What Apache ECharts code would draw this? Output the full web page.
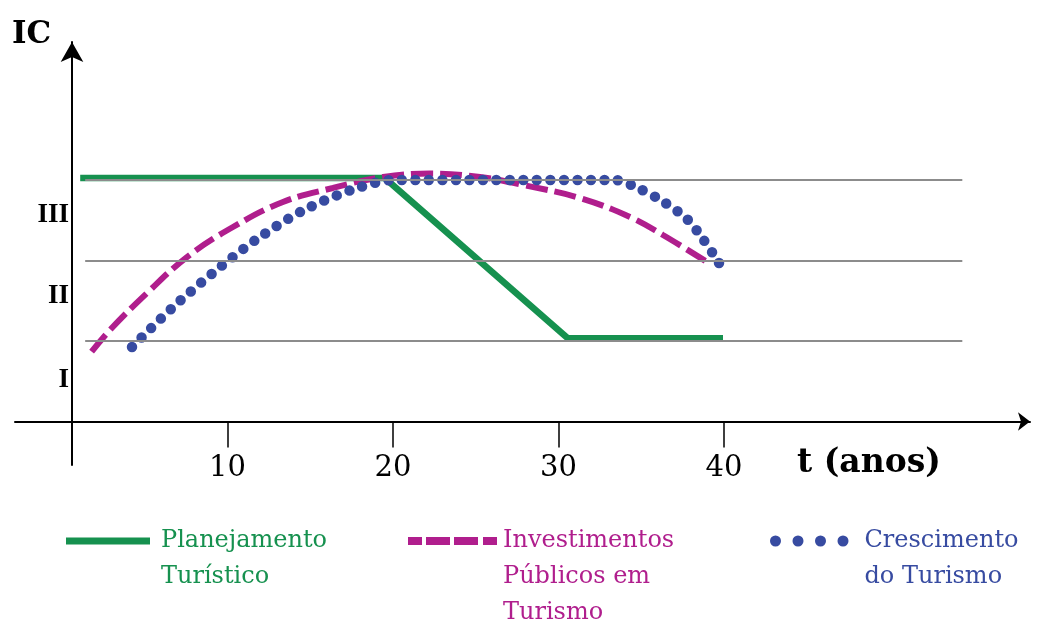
<!DOCTYPE html>
<html><head><meta charset="utf-8">
<script src="https://cdn.jsdelivr.net/npm/echarts@6/dist/echarts.min.js"></script>
<style>html,body{margin:0;padding:0;background:#fff}#c{width:1038px;height:619px}</style>
</head><body><div id="c"></div>
<script>
// ---- data ----
const seriesNames = ['Planejamento Turístico', 'Investimentos Públicos em Turismo', 'Crescimento do Turismo'];
const legendLines = [['Planejamento', 'Turístico'], ['Investimentos', 'Públicos em', 'Turismo'], ['Crescimento', 'do Turismo']];
const planejamento = [[1.1, 3.025], [19.5, 3.025], [30.56, 1.034], [39.94, 1.034]];
const investimentos = [[1.79, 0.867], [2.90, 1.137], [5.14, 1.596], [7.55, 2.043], [10.33, 2.416], [13.35, 2.727], [16.37, 2.901], [19.40, 3.037], [22.2, 3.08], [25.26, 3.037], [27.85, 2.938], [31.30, 2.776], [34.32, 2.540], [36.31, 2.317], [38.95, 1.985]];
const crescimento = [[4.23, 0.925], [6.65, 1.41], [9.18, 1.857], [11.78, 2.267], [14.62, 2.627], [17.65, 2.888], [20.06, 3.0], [26, 3.0], [33.4, 3.0], [34.92, 2.888], [36.37, 2.727], [37.76, 2.516], [38.73, 2.267], [39.7, 1.969]];
const xTickValues = [10, 20, 30, 40];
const yLevelLabels = ['I', 'II', 'III'];
const yLevelLabelPos = [0.52, 1.56, 2.56];
const levelLines = [1, 2, 3];
const levelLineStart = 1.4, levelLineEnd = 54.4;
const xAxisTitle = 't (anos)';
const yAxisTitle = 'IC';

// ---- style ----
const colors = ['#16914f', '#b01e8d', '#374ba1'];
const serif = 'DejaVu Serif';
const legendIcons = [
  'path://M0,0H84V7H0Z',
  'path://M0,0H14V8H0Z M18,0H42V8H18Z M46,0H70V8H46Z M75,0H89V8H75Z',
  'path://M0,5.5a5.5,5.5 0 1,0 11,0a5.5,5.5 0 1,0 -11,0Z M22.5,5.5a5.5,5.5 0 1,0 11,0a5.5,5.5 0 1,0 -11,0Z M45,5.5a5.5,5.5 0 1,0 11,0a5.5,5.5 0 1,0 -11,0Z M67.5,5.5a5.5,5.5 0 1,0 11,0a5.5,5.5 0 1,0 -11,0Z'
];
const legendBox = [
  {left: 66, itemWidth: 96, itemHeight: 7},
  {left: 408, itemWidth: 91, itemHeight: 8},
  {left: 770, itemWidth: 100.5, itemHeight: 11}
];
const lineH = 36, legendCenterY = 541;

const chart = echarts.init(document.getElementById('c'));

const legends = seriesNames.map((name, i) => {
  const lines = legendLines[i];
  const total = lines.length * 2 - 1;
  return {
    left: legendBox[i].left,
    top: legendCenterY - total * lineH / 2,
    padding: 0,
    orient: 'vertical',
    selectedMode: false,
    icon: legendIcons[i],
    itemWidth: legendBox[i].itemWidth,
    itemHeight: legendBox[i].itemHeight,
    itemStyle: {borderWidth: 0},
    textStyle: {fontFamily: serif, fontSize: 24, lineHeight: lineH, color: colors[i]},
    formatter: () => '\n'.repeat(lines.length - 1) + lines.join('\n'),
    data: [{name: name, textStyle: {color: colors[i]}}]
  };
});

// end point of the dotted curve gets its own dot
const crescimentoData = crescimento.map((p, i) =>
  i === crescimento.length - 1 ? {value: p, symbol: 'circle', symbolSize: 10.5} : p);

chart.setOption({
  animation: false,
  backgroundColor: '#fff',
  title: [
    {text: yAxisTitle, left: 12, top: 19, padding: 0,
     textStyle: {fontFamily: serif, fontWeight: 'bold', fontSize: 31, color: '#000'}},
    {text: xAxisTitle, left: 797, top: 447, padding: 0,
     textStyle: {fontFamily: serif, fontWeight: 'bold', fontSize: 33, color: '#000'}}
  ],
  legend: legends,
  grid: [
    {left: 15, right: 8, top: 42, bottom: 154},
    {left: 72, right: 8, top: 42, bottom: 154}
  ],
  xAxis: [
    {gridIndex: 0, type: 'value', min: -2.84, max: 58.49,
     splitLine: {show: false},
     axisLine: {show: true, onZero: true, symbol: ['none', 'arrow'], symbolSize: [14, 12],
                lineStyle: {color: '#000', width: 2}},
     axisTick: {show: true, customValues: xTickValues, length: 26, lineStyle: {color: '#000', width: 1.5}},
     axisLabel: {customValues: xTickValues, margin: -11, fontFamily: serif, fontSize: 29, color: '#000'}},
    {gridIndex: 1, type: 'value', min: 0, max: 1, show: false}
  ],
  yAxis: [
    {gridIndex: 0, type: 'value', min: -0.54, max: 4.714, show: false},
    {gridIndex: 1, type: 'value', min: -0.54, max: 4.714,
     splitLine: {show: false},
     axisLine: {show: true, symbol: ['none', 'arrow'], symbolSize: [17, 20],
                lineStyle: {color: '#000', width: 2}},
     axisTick: {show: false},
     axisLabel: {customValues: yLevelLabelPos, margin: 3,
                 formatter: v => yLevelLabels[yLevelLabelPos.indexOf(v)] || '',
                 fontFamily: 'Liberation Serif', fontWeight: 'bold', fontSize: 27, color: '#000'}}
  ],
  series: [
    {type: 'line', name: 'levels', data: [], xAxisIndex: 0, yAxisIndex: 0, z: 1, silent: true,
     markLine: {silent: true, symbol: 'none', label: {show: false},
       lineStyle: {color: '#8c8c8c', width: 2, type: 'solid'},
       emphasis: {disabled: true},
       data: levelLines.map(v => [{coord: [levelLineStart, v]}, {coord: [levelLineEnd, v]}])}},
    {type: 'line', name: seriesNames[0], data: planejamento, symbol: 'none', color: colors[0],
     lineStyle: {color: colors[0], width: 6.5}},
    {type: 'line', name: seriesNames[1], data: investimentos, symbol: 'none', smooth: 0.4, color: colors[1],
     lineStyle: {color: colors[1], width: 6, type: [22, 7], cap: 'butt'}},
    {type: 'line', name: seriesNames[2], data: crescimentoData, symbol: 'none', showSymbol: true,
     smooth: 0.3, color: colors[2], silent: true,
     itemStyle: {color: colors[2], borderWidth: 0},
     lineStyle: {color: colors[2], width: 10.5, type: [0, 13.5], cap: 'round'}}
  ]
});
</script></body></html>
